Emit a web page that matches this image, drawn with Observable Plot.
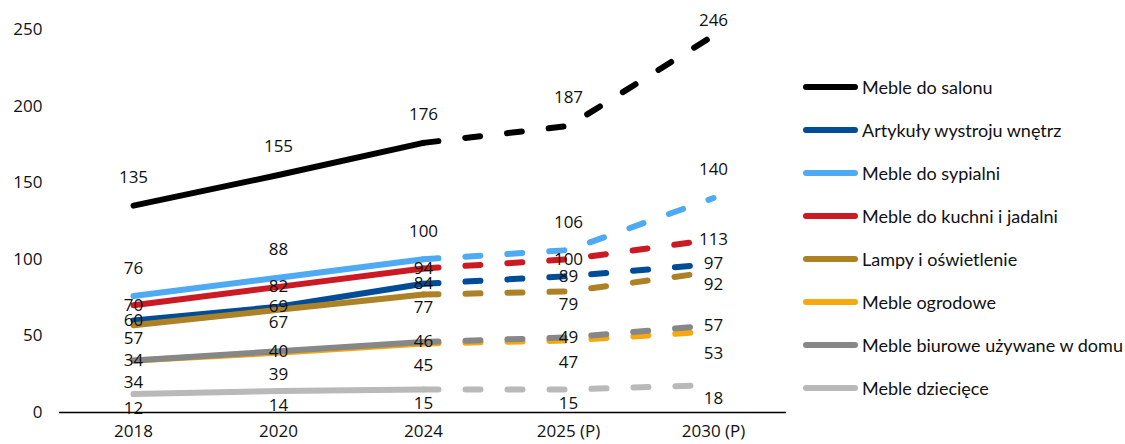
<!DOCTYPE html>
<html>
<head>
<meta charset="utf-8">
<script src="https://cdn.jsdelivr.net/npm/d3@7"></script>
<script src="https://cdn.jsdelivr.net/npm/@observablehq/plot@0.6"></script>
<style>
  html, body { margin: 0; padding: 0; background: #fff; }
  #wrap { position: relative; width: 1125px; height: 444px; overflow: hidden; }
  #legend { position: absolute; left: 803px; top: 65px; font-family: Lato, "Noto Sans", sans-serif; font-size: 18px; color: #111; }
  .row { height: 43px; display: flex; align-items: center; white-space: nowrap; }
  .sw { width: 55px; height: 6px; border-radius: 3px; margin-right: 4px; }
</style>
</head>
<body>
<div id="wrap"><div id="chart"></div><div id="legend"></div></div>
<script>
const years = ["2018", "2020", "2024", "2025 (P)", "2030 (P)"];
const seriesNames = [
  "Meble do salonu",
  "Artykuły wystroju wnętrz",
  "Meble do sypialni",
  "Meble do kuchni i jadalni",
  "Lampy i oświetlenie",
  "Meble ogrodowe",
  "Meble biurowe używane w domu",
  "Meble dziecięce"
];
const salon     = [135, 155, 176, 187, 246];
const wystroj   = [60, 69, 84, 89, 97];
const sypialnia = [76, 88, 100, 106, 140];
const kuchnia   = [70, 82, 94, 100, 113];
const lampy     = [57, 67, 77, 79, 92];
const ogrodowe  = [34, 39, 45, 47, 53];
const biurowe   = [34, 40, 46, 49, 57];
const dzieciece = [12, 14, 15, 15, 18];
const yTicks = [0, 50, 100, 150, 200, 250];

const seriesValues = [salon, wystroj, sypialnia, kuchnia, lampy, ogrodowe, biurowe, dzieciece];
const seriesColors = ["#000000", "#004c97", "#4eaaf3", "#cc1a24", "#ad8226", "#f5a90f", "#878787", "#b9b9b9"];
const labelDy = [-28, 0, -28, 0, 13, 22, 0, 14];

const marks = [];
seriesNames.forEach((name, s) => {
  const rows = years.map((year, i) => ({series: name, year, i, value: seriesValues[s][i]}));
  const common = {x: "year", y: "value", stroke: seriesColors[s], strokeWidth: 6, strokeLinecap: "round", strokeLinejoin: "round"};
  marks.push(Plot.line(rows.filter(d => d.i <= 2), common));
  marks.push(Plot.line(rows.filter(d => d.i >= 2), {...common, strokeDasharray: "15,27"}));
});
seriesNames.forEach((name, s) => {
  const rows = years.map((year, i) => ({series: name, year, i, value: seriesValues[s][i]}));
  if (s === 0) {
    marks.push(Plot.text(rows.filter(d => d.i < 4), {x: "year", y: "value", text: d => String(d.value), dy: labelDy[s], fill: "#111"}));
    marks.push(Plot.text(rows.filter(d => d.i === 4), {x: "year", y: "value", text: d => String(d.value), dy: -15, fill: "#111"}));
  } else {
    marks.push(Plot.text(rows, {x: "year", y: "value", text: d => String(d.value), dy: labelDy[s], fill: "#111"}));
  }
});
marks.push(Plot.ruleY([0], {stroke: "#000", strokeWidth: 1.5}));

const chart = Plot.plot({
  width: 1125,
  height: 444,
  marginLeft: 59,
  marginRight: 339,
  marginTop: 29,
  marginBottom: 32,
  style: {fontFamily: "'Open Sans', 'Noto Sans', sans-serif", fontSize: "17px", color: "#111", background: "#fff"},
  x: {type: "point", domain: years, padding: 0.5, label: null, tickSize: 0, tickPadding: 12},
  y: {domain: [0, 250], ticks: yTicks, label: null, tickSize: 0, tickPadding: 17},
  marks
});
document.getElementById("chart").appendChild(chart);

const legend = document.getElementById("legend");
seriesNames.forEach((name, s) => {
  const row = document.createElement("div");
  row.className = "row";
  const sw = document.createElement("div");
  sw.className = "sw";
  sw.style.background = seriesColors[s];
  const t = document.createElement("span");
  t.textContent = name;
  row.appendChild(sw);
  row.appendChild(t);
  legend.appendChild(row);
});
</script>
</body>
</html>
